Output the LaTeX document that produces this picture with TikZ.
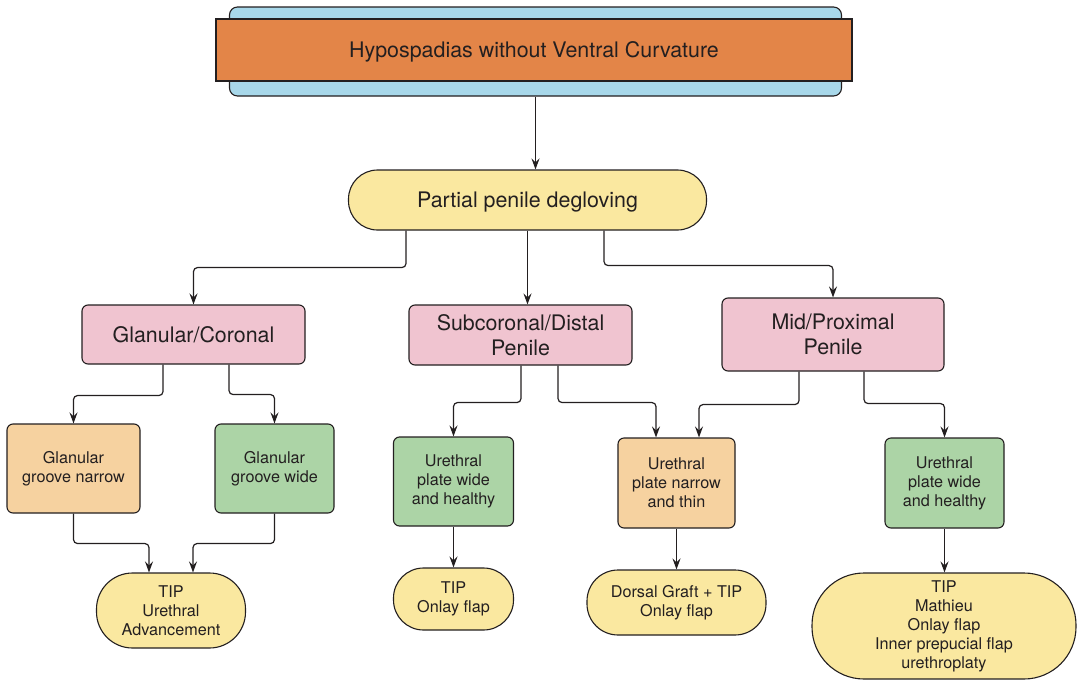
\documentclass[tikz,border=0pt]{standalone}
\usepackage{fontspec}
\setmainfont{TeX Gyre Heros}
\usetikzlibrary{arrows.meta,calc}
\definecolor{linec}{HTML}{231F20}
\definecolor{txt}{HTML}{231F20}
\definecolor{bluec}{HTML}{A8D8EA}
\definecolor{orangec}{HTML}{E38548}
\definecolor{pinkc}{HTML}{F0C4D0}
\definecolor{yellowc}{HTML}{FAE8A0}
\definecolor{peachc}{HTML}{F6D2A0}
\definecolor{greenc}{HTML}{ACD4A6}
\newcommand\mybigfont{\fontsize{21.4}{25}\selectfont}
\newcommand\mysmallfont{\fontsize{16.2}{19}\selectfont}
\newcommand\lowertxt[1]{\raisebox{-2pt}[\height][\depth]{#1}}
\tikzset{
  base/.style={draw=linec, line width=1.1pt, text=txt, align=center, inner sep=0pt},
  bluebox/.style={base, fill=bluec, rounded corners=8pt},
  titlebox/.style={base, fill=orangec, font=\mybigfont},
  pinkbox/.style={base, fill=pinkc, rounded corners=6pt, font=\mybigfont},
  peachbox/.style={base, fill=peachc, rounded corners=6pt, font=\mysmallfont},
  greenbox/.style={base, fill=greenc, rounded corners=6pt, font=\mysmallfont},
  stadium/.style={base, fill=yellowc, font=\mysmallfont},
  arr/.style={draw=linec, line width=1.2pt, rounded corners=4pt,
    -{Stealth[length=11pt,width=8pt,inset=4pt]}}
}
\begin{document}
\begin{tikzpicture}[x=1pt,y=-1pt]
\useasboundingbox (0,0) rectangle (1078,680);
% top
\node[bluebox, minimum width=612pt, minimum height=89pt] (topback) at (535.5,51.5) {};
\node[titlebox, minimum width=636pt, minimum height=62pt] (top) at (534,50) {\lowertxt{Hypospadias without Ventral Curvature}};
% degloving
\node[stadium, font=\mybigfont, rounded corners=29pt, minimum width=358pt, minimum height=60pt] (degl) at (527.5,200) {\lowertxt{Partial penile degloving}};
% level 2
\node[pinkbox, minimum width=223pt, minimum height=59pt] (gc) at (193.5,334.5) {Glanular/Coronal};
\node[pinkbox, minimum width=223pt, minimum height=60pt] (sd) at (520.5,335) {Subcoronal/Distal\\Penile};
\node[pinkbox, minimum width=222pt, minimum height=73pt] (mp) at (833,334.5) {Mid/Proximal\\Penile};
% level 3
\node[peachbox, minimum width=133pt, minimum height=89pt] (gnarrow) at (73.5,468.5) {Glanular\\groove narrow};
\node[greenbox, minimum width=119pt, minimum height=89pt] (gwide) at (274.5,468.5) {Glanular\\groove wide};
\node[greenbox, minimum width=120pt, minimum height=89pt] (uwide1) at (453.5,481.5) {Urethral\\plate wide\\and healthy};
\node[peachbox, minimum width=117pt, minimum height=90pt] (unarrow) at (676.5,483) {Urethral\\plate narrow\\and thin};
\node[greenbox, minimum width=119pt, minimum height=90pt] (uwide2) at (944.5,483) {Urethral\\plate wide\\and healthy};
% level 4
\node[stadium, rounded corners=36pt, minimum width=149pt, minimum height=75pt] (tip1) at (171,610.5) {TIP\\Urethral\\Advancement};
\node[stadium, rounded corners=30pt, minimum width=120pt, minimum height=62pt] (tip2) at (453.5,599) {TIP\\Onlay flap};
\node[stadium, rounded corners=31pt, minimum width=179pt, minimum height=65pt] (dgraft) at (676.5,602.5) {Dorsal Graft + TIP\\Onlay flap};
\node[stadium, rounded corners=52pt, minimum width=264pt, minimum height=106pt] (big) at (944,626) {TIP\\Mathieu\\Onlay flap\\Inner prepucial flap\\urethroplaty};
% connectors
\draw[arr] (topback.south) -- (topback.south |- degl.north);
\draw[arr] ($(degl.south)+(-121.5,0)$) -- ++(0,37) -| (gc.north);
\draw[arr] (degl.south) -- (degl.south |- sd.north);
\draw[arr] ($(degl.south)+(76.5,0)$) -- ++(0,35) -| (mp.north);
\draw[arr] ($(gc.south)+(-30.5,0)$) -- ++(0,31) -| (gnarrow.north);
\draw[arr] ($(gc.south)+(35.5,0)$) -- ++(0,30) -| (gwide.north);
\draw[arr] (gnarrow.south) -- ++(0,30) -| ($(tip1.north)+(-22,0)$);
\draw[arr] (gwide.south) -- ++(0,30) -| ($(tip1.north)+(22,0)$);
\draw[arr] ($(sd.south)+(0.5,0)$) -- ++(0,37) -| (uwide1.north);
\draw[arr] ($(sd.south)+(37.5,0)$) -- ++(0,37) -| ($(unarrow.north)+(-20.5,0)$);
\draw[arr] ($(mp.south)+(-34,0)$) -- ++(0,33) -| ($(unarrow.north)+(22.5,0)$);
\draw[arr] ($(mp.south)+(31,0)$) -- ++(0,32) -| (uwide2.north);
\draw[arr] (uwide1.south) -- (tip2.north);
\draw[arr] (unarrow.south) -- (dgraft.north);
\draw[arr] (uwide2.south) -- (uwide2.south |- big.north);
\end{tikzpicture}
\end{document}
